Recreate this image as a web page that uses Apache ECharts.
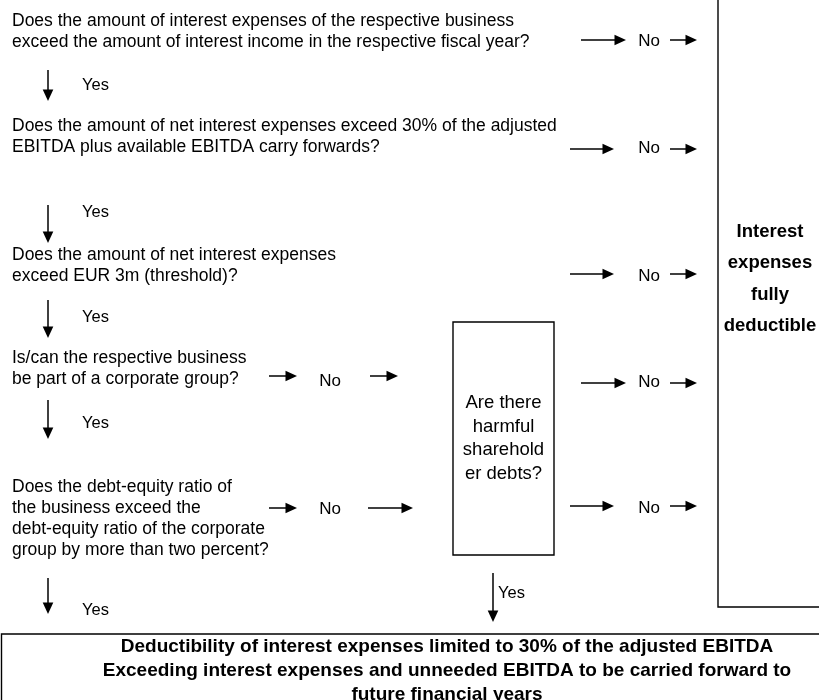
<!DOCTYPE html>
<html><head><meta charset="utf-8">
<script src="https://cdn.jsdelivr.net/npm/echarts@6/dist/echarts.min.js"></script>
<style>html,body{margin:0;padding:0;background:#fff}#c{width:819px;height:700px}</style>
</head><body><div id="c"></div>
<script>
// ---------- content ----------
const questions = [
  ["Does the amount of interest expenses of the respective business",
   "exceed the amount of interest income in the respective fiscal year?"],
  ["Does the amount of net interest expenses exceed 30% of the adjusted",
   "EBITDA plus available EBITDA carry forwards?"],
  ["Does the amount of net interest expenses",
   "exceed EUR 3m (threshold)?"],
  ["Is/can the respective business",
   "be part of a corporate group?"],
  ["Does the debt-equity ratio of",
   "the business exceed the",
   "debt-equity ratio of the corporate",
   "group by more than two percent?"]
];
const yesLabel = "Yes";
const noLabel = "No";
const shareholderQuestion = ["Are there", "harmful", "sharehold", "er debts?"];
const fullyDeductible = ["Interest", "expenses", "fully", "deductible"];
const limitedDeduction = [
  "Deductibility of interest expenses limited to 30% of the adjusted EBITDA",
  "Exceeding interest expenses and unneeded EBITDA to be carried forward to",
  "future financial years"
];

// ---------- layout (coordinates of the hidden axes) ----------
const qX = 12, qGap = 21;
const qTop = [21.5, 126, 255, 358.5, 487];
const downX = 48, yesX = 82;
const downArrows = [[70, 101, 85], [205, 243, 212], [300, 338, 317], [400, 439, 423], [578, 614, 610]];
const rightRows = [
  {y: 40, noY: 41, long: [581, 626]},
  {y: 149, noY: 148.5, long: [570, 614]},
  {y: 274, noY: 276, long: [570, 614]},
  {y: 383, noY: 382, long: [581, 626]},
  {y: 506, noY: 508, long: [570, 614]}
];
const noX = 649, shortArrow = [670, 697];
const leftRows = [
  {y: 376, noY: 381, a: [269, 297], b: [370, 398]},
  {y: 508, noY: 509, a: [269, 297], b: [368, 413]}
];
const leftNoX = 330;
const midBox = [453, 322, 554, 555];
const midTextX = 503.5, midGap = 23.5;
const midDown = {x: 493, from: 573, to: 622, yesX: 498, yesY: 593};
const rightBox = [718, -10, 840, 607];
const rightTextX = 770, rightTextY = 231.5, rightGap = 31.5;
const bottomBox = [1.5, 634, 840, 720];
const bottomTextX = 447, bottomTextY = 647, bottomGap = 24;

const FONT = '"Liberation Sans", Arial, Helvetica, sans-serif';

// ---------- build elements ----------
const texts = [];
questions.forEach((q, i) => q.forEach((line, j) =>
  texts.push({x: qX, y: qTop[i] + j * qGap, text: line, size: 17.5, bold: false, align: 'left'})));
downArrows.forEach(d => texts.push({x: yesX, y: d[2], text: yesLabel, size: 16.5, bold: false, align: 'left'}));
rightRows.forEach(r => texts.push({x: noX, y: r.noY, text: noLabel, size: 17, bold: false, align: 'center'}));
leftRows.forEach(r => texts.push({x: leftNoX, y: r.noY, text: noLabel, size: 17, bold: false, align: 'center'}));
const midCenter = (midBox[1] + midBox[3]) / 2;
shareholderQuestion.forEach((line, j) => texts.push({x: midTextX,
  y: midCenter + (j - (shareholderQuestion.length - 1) / 2) * midGap, text: line, size: 18.5, bold: false, align: 'center'}));
texts.push({x: midDown.yesX, y: midDown.yesY, text: yesLabel, size: 16.5, bold: false, align: 'left'});
fullyDeductible.forEach((line, j) => texts.push({x: rightTextX, y: rightTextY + j * rightGap, text: line, size: 18.5, bold: true, align: 'center'}));
limitedDeduction.forEach((line, j) => texts.push({x: bottomTextX, y: bottomTextY + j * bottomGap, text: line, size: 19, bold: true, align: 'center'}));

const arrows = [];
downArrows.forEach(d => arrows.push([downX, d[0], downX, d[1]]));
rightRows.forEach(r => {
  arrows.push([r.long[0], r.y, r.long[1], r.y]);
  arrows.push([shortArrow[0], r.y, shortArrow[1], r.y]);
});
leftRows.forEach(r => {
  arrows.push([r.a[0], r.y, r.a[1], r.y]);
  arrows.push([r.b[0], r.y, r.b[1], r.y]);
});
arrows.push([midDown.x, midDown.from, midDown.x, midDown.to]);

const boxes = [midBox, rightBox, bottomBox];

const chart = echarts.init(document.getElementById('c'), null, {renderer: 'canvas'});
chart.setOption({
  backgroundColor: '#ffffff',
  animation: false,
  grid: {left: 0, right: 0, top: 0, bottom: 0},
  xAxis: {type: 'value', min: 0, max: 819, show: false},
  yAxis: {type: 'value', min: 0, max: 700, inverse: true, show: false},
  series: [
    {
      type: 'custom', clip: false, silent: true,
      data: boxes,
      renderItem: (p, api) => {
        const a = api.coord([api.value(0), api.value(1)]);
        const b = api.coord([api.value(2), api.value(3)]);
        return {type: 'rect', shape: {x: a[0], y: a[1], width: b[0] - a[0], height: b[1] - a[1]},
          style: {fill: '#fff', stroke: '#000', lineWidth: 1.4}};
      }
    },
    {
      type: 'custom', clip: false, silent: true,
      data: arrows,
      renderItem: (p, api) => {
        const s = api.coord([api.value(0), api.value(1)]);
        const e = api.coord([api.value(2), api.value(3)]);
        const dx = e[0] - s[0], dy = e[1] - s[1];
        const len = Math.sqrt(dx * dx + dy * dy), ux = dx / len, uy = dy / len;
        const hl = 11.5, hw = 5.3;
        const bx = e[0] - ux * hl, by = e[1] - uy * hl;
        return {type: 'group', children: [
          {type: 'line', shape: {x1: s[0], y1: s[1], x2: bx + ux * 2, y2: by + uy * 2},
            style: {stroke: '#000', lineWidth: 1.5}},
          {type: 'polygon', shape: {points: [[e[0], e[1]], [bx - uy * hw, by + ux * hw], [bx + uy * hw, by - ux * hw]]},
            style: {fill: '#000'}}
        ]};
      }
    },
    {
      type: 'custom', clip: false, silent: true,
      data: texts.map(t => [t.x, t.y]),
      renderItem: (p, api) => {
        const t = texts[p.dataIndex];
        const c = api.coord([api.value(0), api.value(1)]);
        return {type: 'text', style: {x: c[0], y: c[1], text: t.text, fill: '#000',
          font: (t.bold ? 'bold ' : '') + t.size + 'px ' + FONT,
          textAlign: t.align, align: t.align, textVerticalAlign: 'middle', verticalAlign: 'middle'}};
      }
    }
  ]
});
</script>
</body></html>
